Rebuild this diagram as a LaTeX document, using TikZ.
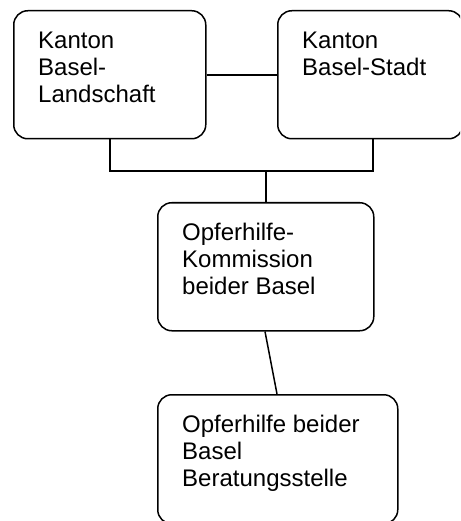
\documentclass[tikz,border=0pt]{standalone}
\usepackage{fontspec}
\setmainfont{Liberation Sans}
\begin{document}
\begin{tikzpicture}[x=1pt,y=1pt,
  box/.style={draw, line width=1.5pt, rounded corners=14pt, inner sep=0pt},
  txt/.style={inner sep=0pt, align=left, anchor=north west, font=\fontsize{24}{27}\selectfont},
  conn/.style={line width=1.5pt}]
\useasboundingbox (0,0) rectangle (460,-521);
\begin{scope}
\clip (0,0) rectangle (460,-521);
\node[box, minimum width=192pt, minimum height=128pt, anchor=north west] (a) at (13,-10) {};
\node[box, minimum width=185pt, minimum height=128pt, anchor=north west] (b) at (277,-10) {};
\node[box, minimum width=216pt, minimum height=128pt, anchor=north west] (c) at (157,-202) {};
\node[box, minimum width=240pt, minimum height=129pt, anchor=north west] (d) at (157,-394) {};
\end{scope}
\node[txt] (ta) at ([shift={(25,-22)}]a.north west) {Kanton\\Basel-\\Landschaft};
\node[txt] (tb) at ([shift={(25,-22)}]b.north west) {Kanton\\Basel-Stadt};
\node[txt] (tc) at ([shift={(25,-21)}]c.north west) {Opferhilfe-\\Kommission\\beider Basel};
\node[txt] (td) at ([shift={(25,-21)}]d.north west) {Opferhilfe beider\\Basel\\Beratungsstelle};
\coordinate (j) at (266,-171);
\draw[conn] (a.east |- 0,-75) -- (b.west |- 0,-75);
\draw[conn] (a.south -| 110,0) |- (j) -| (b.south -| 373,0);
\draw[conn] (j) -- (c.north -| j);
\draw[conn] (c.south -| 265,0) -- (d.north -| 277,0);
\end{tikzpicture}
\end{document}
